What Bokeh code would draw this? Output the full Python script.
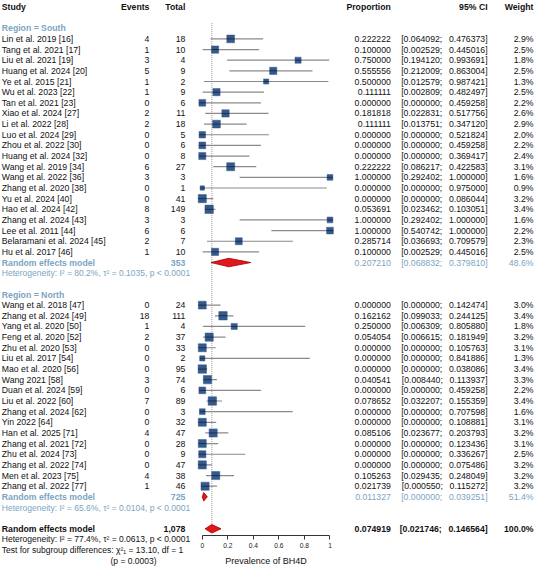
from bokeh.plotting import figure
from bokeh.models import Range1d, LinearAxis, FixedTicker, ColumnDataSource
from bokeh.core.properties import value
from bokeh.embed import file_html
from bokeh.resources import INLINE
import math

# ---------------- data ----------------
south_study = ["Lin et al. 2019 [16]", "Tang et al. 2021 [17]", "Liu et al. 2021 [19]",
               "Huang et al. 2024 [20]", "Ye et al. 2015 [21]", "Wu et al. 2023 [22]",
               "Tan et al. 2021 [23]", "Xiao et al. 2024 [27]", "Li et al. 2022 [28]",
               "Luo et al. 2024 [29]", "Zhou et al. 2022 [30]", "Huang et al. 2024 [32]",
               "Wang et al. 2019 [34]", "Wang et al. 2022 [36]", "Zhang et al. 2020 [38]",
               "Yu et al. 2024 [40]", "Hao et al. 2024 [42]", "Zhang et al. 2024 [43]",
               "Lee et al. 2011 [44]", "Belaramani et al. 2024 [45]", "Hu et al. 2017 [46]"]
south_events = [4, 1, 3, 5, 1, 1, 0, 2, 2, 0, 0, 0, 6, 3, 0, 0, 8, 3, 6, 2, 1]
south_total = [18, 10, 4, 9, 2, 9, 6, 11, 18, 5, 6, 8, 27, 3, 1, 41, 149, 3, 6, 7, 10]
south_prop = [0.222222, 0.100000, 0.750000, 0.555556, 0.500000, 0.111111, 0.000000,
              0.181818, 0.111111, 0.000000, 0.000000, 0.000000, 0.222222, 1.000000,
              0.000000, 0.000000, 0.053691, 1.000000, 1.000000, 0.285714, 0.100000]
south_lo = [0.064092, 0.002529, 0.194120, 0.212009, 0.012579, 0.002809, 0.000000,
            0.022831, 0.013751, 0.000000, 0.000000, 0.000000, 0.086217, 0.292402,
            0.000000, 0.000000, 0.023462, 0.292402, 0.540742, 0.036693, 0.002529]
south_hi = [0.476373, 0.445016, 0.993691, 0.863004, 0.987421, 0.482497, 0.459258,
            0.517756, 0.347120, 0.521824, 0.459258, 0.369417, 0.422583, 1.000000,
            0.975000, 0.086044, 0.103051, 1.000000, 1.000000, 0.709579, 0.445016]
south_weight = [2.9, 2.5, 1.8, 2.5, 1.3, 2.5, 2.2, 2.6, 2.9, 2.0, 2.2, 2.4, 3.1, 1.6,
                0.9, 3.2, 3.4, 1.6, 2.2, 2.3, 2.5]

north_study = ["Wang et al. 2018 [47]", "Zhang et al. 2024 [49]", "Yang et al. 2020 [50]",
               "Feng et al. 2020 [52]", "Zhu et al. 2020 [53]", "Liu et al. 2017 [54]",
               "Mao et al. 2020 [56]", "Wang 2021 [58]", "Duan et al. 2024 [59]",
               "Liu et al. 2022 [60]", "Zhang et al. 2024 [62]", "Yin 2022 [64]",
               "Han et al. 2025 [71]", "Zhang et al. 2021 [72]", "Zhu et al. 2024 [73]",
               "Zhang et al. 2022 [74]", "Men et al. 2023 [75]", "Zhang et al. 2022 [77]"]
north_events = [0, 18, 1, 2, 0, 0, 0, 3, 0, 7, 0, 0, 4, 0, 0, 0, 4, 1]
north_total = [24, 111, 4, 37, 33, 2, 95, 74, 6, 89, 3, 32, 47, 28, 9, 47, 38, 46]
north_prop = [0.000000, 0.162162, 0.250000, 0.054054, 0.000000, 0.000000, 0.000000,
              0.040541, 0.000000, 0.078652, 0.000000, 0.000000, 0.085106, 0.000000,
              0.000000, 0.000000, 0.105263, 0.021739]
north_lo = [0.000000, 0.099033, 0.006309, 0.006615, 0.000000, 0.000000, 0.000000,
            0.008440, 0.000000, 0.032207, 0.000000, 0.000000, 0.023677, 0.000000,
            0.000000, 0.000000, 0.029435, 0.000550]
north_hi = [0.142474, 0.244125, 0.805880, 0.181949, 0.105763, 0.841886, 0.038086,
            0.113937, 0.459258, 0.155359, 0.707598, 0.108881, 0.203793, 0.123436,
            0.336267, 0.075486, 0.248049, 0.115272]
north_weight = [3.0, 3.4, 1.8, 3.2, 3.1, 1.3, 3.4, 3.3, 2.2, 3.4, 1.6, 3.1, 3.2, 3.1,
                2.5, 3.2, 3.2, 3.2]

# pooled estimates: [South, North, Overall]
pooled_label = ["Random effects model", "Random effects model", "Random effects model"]
pooled_total = ["353", "725", "1,078"]
pooled_prop = [0.207210, 0.011327, 0.074919]
pooled_lo = [0.068832, 0.000000, 0.021746]
pooled_hi = [0.379810, 0.039251, 0.146564]
pooled_weight = ["48.6%", "51.4%", "100.0%"]
het_text = ["Heterogeneity: I² = 80.2%, τ² = 0.1035, p < 0.0001",
            "Heterogeneity: I² = 65.6%, τ² = 0.0104, p < 0.0001",
            "Heterogeneity: I² = 77.4%, τ² = 0.0613, p < 0.0001"]
subgroup_test = ["Test for subgroup differences: χ²₁ = 13.10, df = 1", "(p = 0.0003)"]
group_titles = ["Region = South", "Region = North"]
headers = ["Study", "Events", "Total", "Proportion", "95% CI", "Weight"]
tick_values = [0, 0.2, 0.4, 0.6, 0.8, 1]
tick_labels = ["0", "0.2", "0.4", "0.6", "0.8", "1"]
x_label = "Prevalence of BH4D"

# ---------------- layout ----------------
W, H = 534, 566
X0PX, UNIT = 201.0, 128.0
ROW0, ROWH = 38.4, 10.65


def xd(px):
    return (px - X0PX) / UNIT


FONT = value("Liberation Sans")
FS = "8.7px"
FS_HET = "8.5px"
BLUE = "#7BA4C2"
BLACK = "#111111"
SQ = "#36598C"
CI_COL = "#8A8A8A"
DIAM = "#E3161C"
DIAM_LINE = "#A00000"
GAP = "; \u2002"

X_STUDY = xd(0)
X_EVENTS = xd(148)
X_TOTAL = xd(184)
X_PROP = xd(390)
X_CI = xd(487)
X_W = xd(533)

p = figure(width=W, height=H,
           x_range=Range1d(xd(0) - 0.01, xd(W)),
           y_range=Range1d((H - ROW0) / ROWH, -ROW0 / ROWH),
           x_axis_type=None, y_axis_type=None,
           output_backend="svg", toolbar_location=None, min_border=0)
p.outline_line_color = None
p.background_fill_color = "white"

# row indices
south_rows = list(range(0, len(south_study)))
south_pool_row = len(south_study)
north_title_row = south_pool_row + 3
north_rows = list(range(north_title_row + 1, north_title_row + 1 + len(north_study)))
north_pool_row = north_rows[-1] + 1
overall_row = north_pool_row + 3
pool_rows = [south_pool_row, north_pool_row, overall_row]
axis_row = overall_row + 0.65


def txt(xs, ys, texts, align, color=BLACK, size=FS, style="normal"):
    cols = color if isinstance(color, list) else [color] * len(xs)
    src = ColumnDataSource(dict(x=xs, y=ys, t=texts, c=cols))
    p.text(x="x", y="y", text="t", source=src, text_align=align,
           text_baseline="middle", text_font=FONT, text_font_size=size,
           text_font_style=style, text_color="c")


# headers
hx = [X_STUDY, X_EVENTS, X_TOTAL, X_PROP, X_CI, X_W]
ha = ["left", "right", "right", "right", "right", "right"]
for x, t, a in zip(hx, headers, ha):
    txt([x], [-3], [t], a, style="bold")

# group titles
txt([X_STUDY, X_STUDY], [-1, north_title_row], group_titles, "left", color=BLUE,
    style="bold")

# studies
all_rows = south_rows + north_rows
all_study = south_study + north_study
all_events = south_events + north_events
all_total = south_total + north_total
all_prop = south_prop + north_prop
all_lo = south_lo + north_lo
all_hi = south_hi + north_hi
all_w = south_weight + north_weight

txt([X_STUDY] * len(all_rows), all_rows, all_study, "left")
txt([X_EVENTS] * len(all_rows), all_rows, [str(v) for v in all_events], "right")
txt([X_TOTAL] * len(all_rows), all_rows, [str(v) for v in all_total], "right")
txt([X_PROP] * len(all_rows), all_rows, ["%.6f" % v for v in all_prop], "right")
txt([X_CI] * len(all_rows), all_rows,
    ["[%.6f%s%.6f]" % (a, GAP, b) for a, b in zip(all_lo, all_hi)], "right")
txt([X_W] * len(all_rows), all_rows, ["%.1f%%" % w for w in all_w], "right")

# pooled rows
pool_colors = [BLUE, BLUE, BLACK]
for r, lab, tot, pr, lo, hi, w, c in zip(pool_rows, pooled_label, pooled_total,
                                          pooled_prop, pooled_lo, pooled_hi,
                                          pooled_weight, pool_colors):
    st = "bold" if c == BLACK else "normal"
    txt([X_STUDY], [r], [lab], "left", color=c, style="bold")
    txt([X_TOTAL], [r], [tot], "right", color=c, style="bold")
    txt([X_PROP], [r], ["%.6f" % pr], "right", color=c, style=st)
    txt([X_CI], [r], ["[%.6f%s%.6f]" % (lo, GAP, hi)], "right", color=c, style=st)
    txt([X_W], [r], [w], "right", color=c, style=st)

# heterogeneity and subgroup test lines
txt([X_STUDY] * 3, [r + 1 for r in pool_rows], het_text, "left",
    color=pool_colors, size=FS_HET)
txt([X_STUDY], [overall_row + 2], [subgroup_test[0]], "left", size=FS_HET)
txt([xd(109)], [overall_row + 3], [subgroup_test[1]], "left", size=FS_HET)

# reference dotted line at overall estimate
p.segment(x0=[pooled_prop[2]], y0=[-1.5], x1=[pooled_prop[2]], y1=[overall_row],
          line_color="#9A9A9A", line_dash="1 1", line_width=1)

# CI lines
p.segment(x0=all_lo, y0=all_rows, x1=all_hi, y1=all_rows, line_color=CI_COL,
          line_width=1.2)

# squares (area proportional to weight)
sizes = [8.4 * math.sqrt(w / 3.4) for w in all_w]
sq_src = ColumnDataSource(dict(x=all_prop, y=all_rows, s=sizes))
p.scatter(x="x", y="y", size="s", marker="square", source=sq_src, fill_color=SQ,
          line_color=SQ, line_width=0.5)
p.scatter(x="x", y="y", size="s", marker="dash", source=sq_src, line_color="#1B2E4D",
          line_width=1)

# diamonds
dx, dy = [], []
for r, pr, lo, hi in zip(pool_rows, pooled_prop, pooled_lo, pooled_hi):
    dx.append([lo, pr, hi, pr])
    dy.append([r, r - 0.4, r, r + 0.4])
p.patches(xs=dx, ys=dy, fill_color=DIAM, line_color=DIAM_LINE, line_width=0.8)

# x axis
ax = LinearAxis(fixed_location=axis_row, bounds=(0, 1),
                ticker=FixedTicker(ticks=tick_values),
                major_label_overrides={v: l for v, l in zip(tick_values, tick_labels)},
                axis_label=x_label)
ax.axis_line_color = "#333333"
ax.major_tick_line_color = "#333333"
ax.minor_tick_line_color = None
ax.major_tick_out = 4
ax.major_tick_in = 0
ax.major_label_standoff = 3
ax.major_label_text_font = "Liberation Sans"
ax.major_label_text_font_size = "6.7px"
ax.major_label_text_color = "#222222"
ax.axis_label_text_font = "Liberation Sans"
ax.axis_label_text_font_size = "9px"
ax.axis_label_text_font_style = "normal"
ax.axis_label_text_color = "#111111"
ax.axis_label_standoff = 5
p.add_layout(ax, "below")

open("out.html", "w").write(file_html(p, INLINE))
